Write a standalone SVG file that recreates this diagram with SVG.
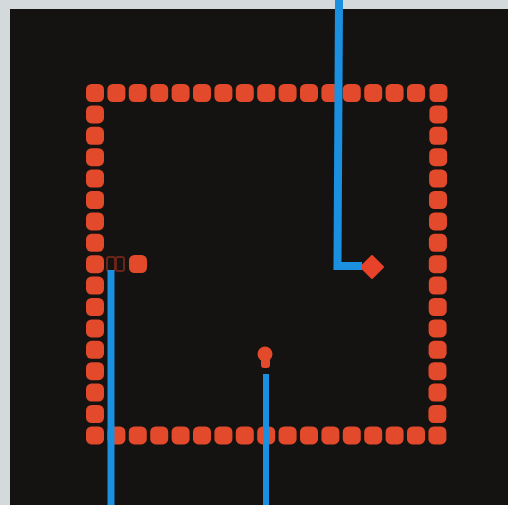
<svg xmlns="http://www.w3.org/2000/svg" xmlns:xlink="http://www.w3.org/1999/xlink" width="508" height="505" viewBox="0 0 508 505">
<defs>
<style>
.dot{fill:#e24a2b}
.wire{fill:none;stroke:#1b8fe0;stroke-linecap:butt;stroke-linejoin:miter}
</style>
<rect id="d" class="dot" x="-9" y="-9" width="18" height="18" rx="5.5"/>
</defs>
<rect x="0" y="0" width="508" height="505" fill="#d4d9dc"/>
<rect x="10" y="9" width="498" height="496" fill="#151311"/>
<g id="wall">
<use href="#d" x="95" y="93"/><use href="#d" x="116.4" y="93"/><use href="#d" x="137.8" y="93"/><use href="#d" x="159.2" y="93"/><use href="#d" x="180.6" y="93"/><use href="#d" x="202" y="93"/><use href="#d" x="223.4" y="93"/><use href="#d" x="244.8" y="93"/><use href="#d" x="266.2" y="93"/><use href="#d" x="287.6" y="93"/><use href="#d" x="309" y="93"/><use href="#d" x="330.4" y="93"/><use href="#d" x="351.8" y="93"/><use href="#d" x="373.2" y="93"/><use href="#d" x="394.6" y="93"/><use href="#d" x="416" y="93"/><use href="#d" x="438.5" y="93"/>
<use href="#d" x="95" y="435.4"/><use href="#d" x="116.4" y="435.4"/><use href="#d" x="137.8" y="435.4"/><use href="#d" x="159.2" y="435.4"/><use href="#d" x="180.6" y="435.4"/><use href="#d" x="202" y="435.4"/><use href="#d" x="223.4" y="435.4"/><use href="#d" x="244.8" y="435.4"/><use href="#d" x="266.2" y="435.4"/><use href="#d" x="287.6" y="435.4"/><use href="#d" x="309" y="435.4"/><use href="#d" x="330.4" y="435.4"/><use href="#d" x="351.8" y="435.4"/><use href="#d" x="373.2" y="435.4"/><use href="#d" x="394.6" y="435.4"/><use href="#d" x="416" y="435.4"/><use href="#d" x="437.4" y="435.4"/>
<use href="#d" x="95" y="114.4"/><use href="#d" x="95" y="135.8"/><use href="#d" x="95" y="157.2"/><use href="#d" x="95" y="178.6"/><use href="#d" x="95" y="200"/><use href="#d" x="95" y="221.4"/><use href="#d" x="95" y="242.8"/><use href="#d" x="95" y="264.2"/><use href="#d" x="95" y="285.6"/><use href="#d" x="95" y="307"/><use href="#d" x="95" y="328.4"/><use href="#d" x="95" y="349.8"/><use href="#d" x="95" y="371.2"/><use href="#d" x="95" y="392.6"/><use href="#d" x="95" y="414"/>
<use href="#d" x="438.4" y="114.4"/><use href="#d" x="438.3" y="135.8"/><use href="#d" x="438.2" y="157.2"/><use href="#d" x="438.1" y="178.6"/><use href="#d" x="438" y="200"/><use href="#d" x="438" y="221.4"/><use href="#d" x="437.9" y="242.8"/><use href="#d" x="437.8" y="264.2"/><use href="#d" x="437.8" y="285.6"/><use href="#d" x="437.7" y="307"/><use href="#d" x="437.6" y="328.4"/><use href="#d" x="437.6" y="349.8"/><use href="#d" x="437.5" y="371.2"/><use href="#d" x="437.5" y="392.6"/><use href="#d" x="437.4" y="414"/>
</g>
<g id="snake">
<rect x="107" y="257" width="8" height="14" rx="2" fill="none" stroke="#6a2418" stroke-width="2"/>
<rect x="116" y="257" width="8" height="14" rx="2" fill="none" stroke="#6a2418" stroke-width="2"/>
<use href="#d" x="138" y="264"/>
</g>
<g id="food">
<polygon points="372,256 383,267 372,278 361,267" fill="#e8432a" stroke="#e8432a" stroke-width="2" stroke-linejoin="round"/>
</g>
<g id="player">
<circle cx="265" cy="354" r="7.5" fill="#e24a2b"/>
<rect x="261" y="357" width="9" height="11" rx="3" fill="#e24a2b"/>
</g>
<g id="connectors">
<path class="wire" d="M339 0 L337.5 266 H362" stroke-width="8"/>
<path class="wire" d="M111 270 V505" stroke-width="7"/>
<path class="wire" d="M266 374 V505" stroke-width="6"/>
</g>
</svg>
